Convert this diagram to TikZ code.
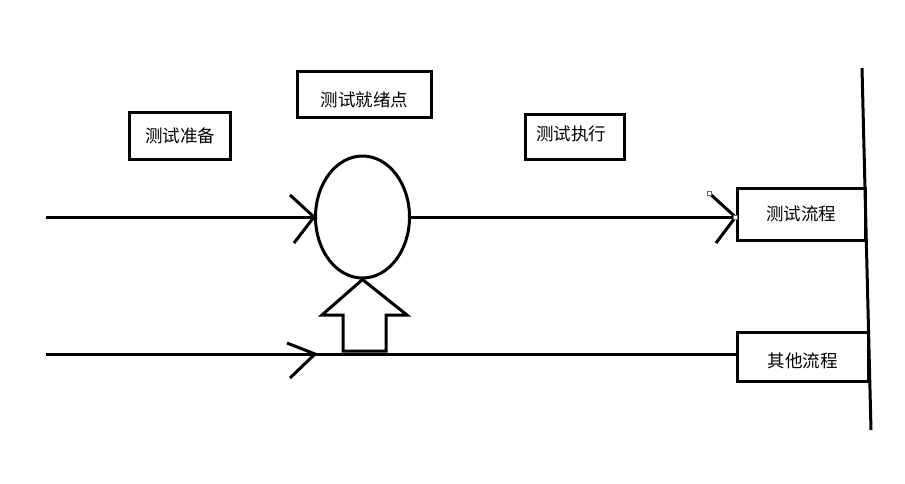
\documentclass[tikz,border=0pt]{standalone}
\usepackage{fontspec}
\newfontfamily\cjk{Noto Sans CJK SC}
\usetikzlibrary{shapes.geometric}
\begin{document}
\begin{tikzpicture}[x=1pt,y=-1pt,
  stroke/.style={line width=3pt},
  labelbox/.style={draw,line width=3pt,inner sep=0pt},
  boxtext/.style={font=\cjk\fontsize{17.5}{19}\selectfont,inner sep=0pt},
  handle/.style={draw=black!60,fill=white,line width=0.8pt,minimum size=4pt,inner sep=0pt}]
\useasboundingbox (0,0) rectangle (905,483);

% text boxes above the flow
\node[labelbox,minimum width=101pt,minimum height=47pt,
  label={[boxtext]center:测试准备}] (prep) at (180,135.5) {};
\node[labelbox,minimum width=134pt,minimum height=46pt,
  label={[boxtext,yshift=-5pt]center:测试就绪点}] (ready) at (364.5,94.5) {};
\node[labelbox,minimum width=99pt,minimum height=45pt,
  label={[boxtext,xshift=-4pt,yshift=3pt]center:测试执行}] (exec) at (575,137) {};

% process boxes on the right
\node[labelbox,minimum width=128pt,minimum height=52pt,
  label={[boxtext]center:测试流程}] (test) at (801,214) {};
\node[labelbox,minimum width=131pt,minimum height=49pt,
  label={[boxtext,yshift=-4.5pt]center:其他流程}] (other) at (802.5,356.5) {};

% readiness point
\node[draw,stroke,ellipse,minimum width=94pt,minimum height=122pt,inner sep=0pt] (pt) at (362.5,217) {};

% main test flow
\coordinate (s1) at (46,217);
\draw[stroke] (s1) -- (pt.west);
\draw[stroke] (pt.east) -- (test.west |- pt.east);
\coordinate (a1) at (290,195);
\coordinate (b1) at (294,243);
\draw[stroke] (a1) -- (pt.west) -- (b1);
\coordinate (a2) at (709,193);
\coordinate (b2) at (716,243);
\draw[stroke] (a2) -- (test.west |- pt.east) -- (b2);
\node[handle] at (a2) {};
\node[handle] at (test.west |- pt.east) {};

% other flow
\coordinate (s2) at (46,354);
\coordinate (m2) at (315,354);
\draw[stroke] (s2) -- (m2) -- (other.west |- 0,354);
\coordinate (a3) at (287,343);
\coordinate (b3) at (290,378);
\draw[stroke] (a3) -- (m2) -- (b3);

% block arrow pushing into the readiness point
\draw[stroke,line join=miter] (pt.south) -- (407,315) -- (386,315) -- (386,351) -- (343,351) -- (343,315) -- (322,315) -- cycle;

% boundary line
\coordinate (v1) at (862,68);
\coordinate (v2) at (871,430);
\draw[stroke] (v1) -- (v2);
\end{tikzpicture}
\end{document}
